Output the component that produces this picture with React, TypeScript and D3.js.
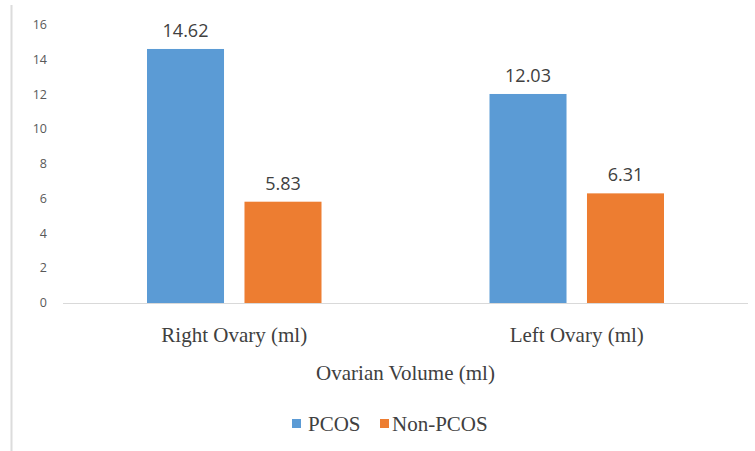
import React, { useEffect, useRef } from 'react';
import * as d3 from 'd3';

const categories = ['Right Ovary (ml)', 'Left Ovary (ml)'];
const seriesNames = ['PCOS', 'Non-PCOS'];
const pcosValues = [14.62, 12.03];
const nonPcosValues = [5.83, 6.31];
const yTicks = [0, 2, 4, 6, 8, 10, 12, 14, 16];

const colors = ['#5B9BD5', '#ED7D31'];

export default function App() {
    const svgRef = useRef<SVGSVGElement | null>(null);

    useEffect(() => {
        const width = 755;
        const height = 451;
        const left = 63;
        const right = 748;
        const top = 25;
        const bottom = 303;

        const svg = d3.select(svgRef.current);
        svg.html(''); // bersihkan render sebelumnya

        // garis tepi kiri (bingkai gambar)
        svg.append('line')
            .attr('x1', 11.5).attr('x2', 11.5)
            .attr('y1', 5).attr('y2', height)
            .attr('stroke', '#dcdcdc')
            .attr('stroke-width', 2);

        const x0 = d3.scaleBand()
            .domain(categories)
            .range([left, right])
            .paddingInner(0)
            .paddingOuter(0);

        // lebar grup: 2 batang 77px + jarak 21px dari band 342px
        const x1 = d3.scaleBand()
            .domain(seriesNames)
            .range([84, x0.bandwidth() - 84])
            .paddingInner(0.21)
            .paddingOuter(0);

        const y = d3.scaleLinear().domain([0, 16]).range([bottom, top]);

        // label sumbu Y
        svg.append('g')
            .selectAll('text')
            .data(yTicks)
            .join('text')
            .attr('x', 47)
            .attr('y', d => y(d) + 4)
            .attr('text-anchor', 'end')
            .style('font-family', '"Open Sans", "DejaVu Sans", sans-serif')
            .style('font-size', '12.5px')
            .style('fill', '#595959')
            .text(d => d);

        // garis dasar
        svg.append('line')
            .attr('x1', left).attr('x2', right)
            .attr('y1', bottom + 0.5).attr('y2', bottom + 0.5)
            .attr('stroke', '#d9d9d9')
            .attr('stroke-width', 1);

        const rows = categories.map((c, i) => ({
            category: c,
            values: [pcosValues[i], nonPcosValues[i]]
        }));

        const groups = svg.append('g')
            .selectAll('g')
            .data(rows)
            .join('g')
            .attr('transform', d => `translate(${x0(d.category)},0)`);

        const cells = groups.selectAll('g')
            .data(d => d.values.map((v, j) => ({ key: seriesNames[j], value: v, idx: j })))
            .join('g');

        cells.append('rect')
            .attr('x', d => x1(d.key)!)
            .attr('y', d => y(d.value))
            .attr('width', x1.bandwidth())
            .attr('height', d => bottom - y(d.value))
            .attr('fill', d => colors[d.idx]);

        cells.append('text')
            .attr('x', d => x1(d.key)! + x1.bandwidth() / 2)
            .attr('y', d => y(d.value) - 12)
            .attr('text-anchor', 'middle')
            .style('font-family', '"Open Sans", "DejaVu Sans", sans-serif')
            .style('font-size', '18px')
            .style('fill', '#404040')
            .text(d => d.value.toFixed(2));

        // label kategori
        svg.append('g')
            .selectAll('text')
            .data(categories)
            .join('text')
            .attr('x', d => x0(d)! + x0.bandwidth() / 2)
            .attr('y', 342)
            .attr('text-anchor', 'middle')
            .style('font-family', '"Liberation Serif", serif')
            .style('font-size', '21px')
            .style('fill', '#404040')
            .text(d => d);

        // judul sumbu X
        svg.append('text')
            .attr('x', (left + right) / 2)
            .attr('y', 380)
            .attr('text-anchor', 'middle')
            .style('font-family', '"Liberation Serif", serif')
            .style('font-size', '21px')
            .style('fill', '#404040')
            .text('Ovarian Volume (ml)');

        // legenda
        const legendX = [292, 380];
        const legend = svg.append('g')
            .selectAll('g')
            .data(seriesNames)
            .join('g')
            .attr('transform', (d, i) => `translate(${legendX[i]},419)`);

        legend.append('rect')
            .attr('width', 9)
            .attr('height', 9)
            .attr('fill', (d, i) => colors[i]);

        legend.append('text')
            .attr('x', (d, i) => (i === 0 ? 16 : 12))
            .attr('y', 12)
            .style('font-family', '"Liberation Serif", serif')
            .style('font-size', '21px')
            .style('fill', '#404040')
            .text(d => d);

        svg.attr('width', width).attr('height', height);
    }, []);

    return (
        <svg
            ref={svgRef}
            style={{ position: 'absolute', left: 0, top: 0, background: '#fff' }}
        ></svg>
    );
}
